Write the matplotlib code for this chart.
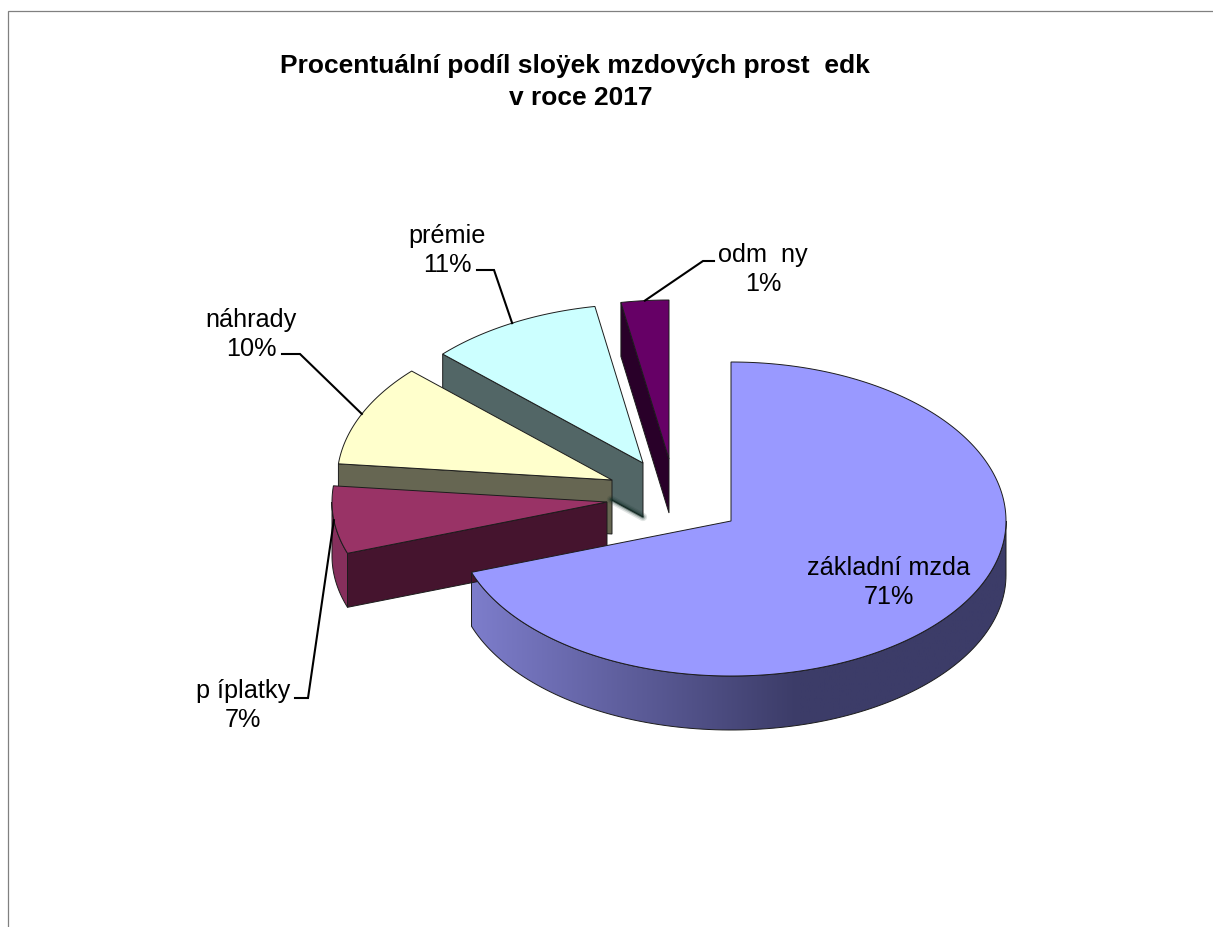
"""Exploded 3-D look pie: procentualni podil slozek mzdovych prostredku, 2017."""
import matplotlib
matplotlib.use("Agg")
import matplotlib.pyplot as plt
import numpy as np
from matplotlib.patches import Polygon

plt.rcParams["font.family"] = ["Liberation Sans", "DejaVu Sans"]

TITLE_LINES = ["Procentuální podíl sloÿek mzdových prost  edk", "v roce 2017"]

# clockwise from 12 o'clock
categories = ["základní mzda", "p íplatky", "náhrady", "prémie", "odm  ny"]
printed_pct = [71, 7, 10, 11, 1]
# share of the ellipse each slice really takes up in the picture (perspective
# of the original distorts them, so they differ from the printed percentages)
drawn_share = [69.7, 7.0, 10.4, 10.2, 2.8]

top_colors = ["#9999ff", "#993366", "#ffffcc", "#ccffff", "#660066"]
side_colors = ["#8080d0", "#45142e", "#666652", "#526666", "#290029"]
rim_color = "#862f5c"

# layout, pixels
RX, RY_BACK, RY_FRONT, DEPTH = 275, 159, 155, 54
apex = [(731, 521), (607, 502), (612, 480), (643, 463), (669, 459)]
label_pos = [(889, 575), (243, 698), (251, 327), (447, 243), (763, 262)]
LINE_GAP = 29
elbow = [None, [(295, 698), (308, 698)], [(282, 354), (300, 354)],
         [(477, 270), (494, 270)], [(714, 261), (703, 261)]]


def rim(cx, cy, t0, t1, n=120):
    t = np.radians(np.linspace(t0, t1, n))
    ry = np.where(np.cos(t) > 0, RY_BACK, RY_FRONT)
    return np.column_stack([cx + RX * np.sin(t), cy - ry * np.cos(t)])


def side_band(cx, cy, t0, t1):
    top = rim(cx, cy, t0, t1)
    bottom = top[::-1] + [0, DEPTH]
    return np.vstack([top, bottom])


def main():
    fig = plt.figure(figsize=(12.13, 9.27), dpi=100)
    ax = fig.add_axes([0, 0, 1, 1])
    ax.set_xlim(0, 1213)
    ax.set_ylim(927, 0)
    ax.axis("off")

    # chart frame, only top and left show
    ax.plot([8, 8, 1213], [927, 11, 11], color="#808080", lw=0.9, solid_joinstyle="miter")

    edges = np.cumsum([0] + drawn_share) / sum(drawn_share) * 360
    edge_kw = dict(edgecolor="#1c1c1c", linewidth=0.7)

    # back to front: odmeny first, main slice last
    for i in [4, 3, 2, 1]:
        cx, cy = apex[i]
        t0, t1 = edges[i], edges[i + 1]
        start = rim(cx, cy, t0, t0, 1)[0]
        cut = [start, (cx, cy), (cx, cy + DEPTH), start + [0, DEPTH]]
        if i == 3:
            # soft shadow at the foot of the premie cut face
            foot = np.array([cx, cy + DEPTH])
            tip = foot + (start - np.array([cx, cy])) * 0.16
            for lw, a in [(6, 0.12), (4, 0.2), (2, 0.45)]:
                ax.plot([tip[0], foot[0]], [tip[1], foot[1]], color="#0c2a22", lw=lw,
                        alpha=a, solid_capstyle="round")
        if t0 < 270:
            ax.add_patch(Polygon(side_band(cx, cy, t0, 270), facecolor=rim_color, **edge_kw))
        ax.add_patch(Polygon(cut, facecolor=side_colors[i], **edge_kw))
        face = np.vstack([[(cx, cy)], rim(cx, cy, t0, t1)])
        ax.add_patch(Polygon(face, facecolor=top_colors[i], **edge_kw))

    # main slice: gradient along the visible rim
    cx, cy = apex[0]
    band = Polygon(side_band(cx, cy, 90, edges[1]), facecolor="none", **edge_kw)
    ax.add_patch(band)
    xs = np.linspace(0, 1, 256)
    light = np.array(matplotlib.colors.to_rgb(side_colors[0]))
    dark = np.array(matplotlib.colors.to_rgb("#3c3c68"))
    ramp = np.clip(xs / 0.62, 0, 1)[:, None]
    grad = (light * (1 - ramp) + dark * ramp)[None, :, :]
    im = ax.imshow(grad, extent=(cx - RX, cx + RX, cy + RY_FRONT + DEPTH, cy - RY_BACK),
                   aspect="auto", zorder=band.get_zorder() - 0.1)
    im.set_clip_path(band)
    ax.set_xlim(0, 1213)
    ax.set_ylim(927, 0)

    # the top face has to sit over the gradient and the earlier slices
    face = np.vstack([[(cx, cy)], rim(cx, cy, 0, edges[1], 300)])
    ax.add_patch(Polygon(face, facecolor=top_colors[0], zorder=band.get_zorder() + 0.1, **edge_kw))

    # leader lines run from the middle of each slice's rim to the label
    for i in range(1, 5):
        mid = (edges[i] + edges[i + 1]) / 2
        end = rim(*apex[i], mid, mid, 1)[0]
        pts = np.vstack([elbow[i], [end]])
        ax.plot(pts[:, 0], pts[:, 1], color="black", lw=1.5, zorder=4, solid_joinstyle="miter")

    for i, name in enumerate(categories):
        x, y = label_pos[i]
        ax.text(x, y, name, ha="center", va="baseline", fontsize=18.2, zorder=5)
        ax.text(x, y + LINE_GAP, f"{printed_pct[i]}%", ha="center", va="baseline",
                fontsize=18.2, zorder=5)

    # second title line sits a little right of the first in the original
    ax.text(575, 73, TITLE_LINES[0], ha="center", va="baseline", fontsize=19, fontweight="bold")
    ax.text(581, 105, TITLE_LINES[1], ha="center", va="baseline", fontsize=19, fontweight="bold")

    fig.savefig("out.png", dpi=100)


if __name__ == "__main__":
    main()
